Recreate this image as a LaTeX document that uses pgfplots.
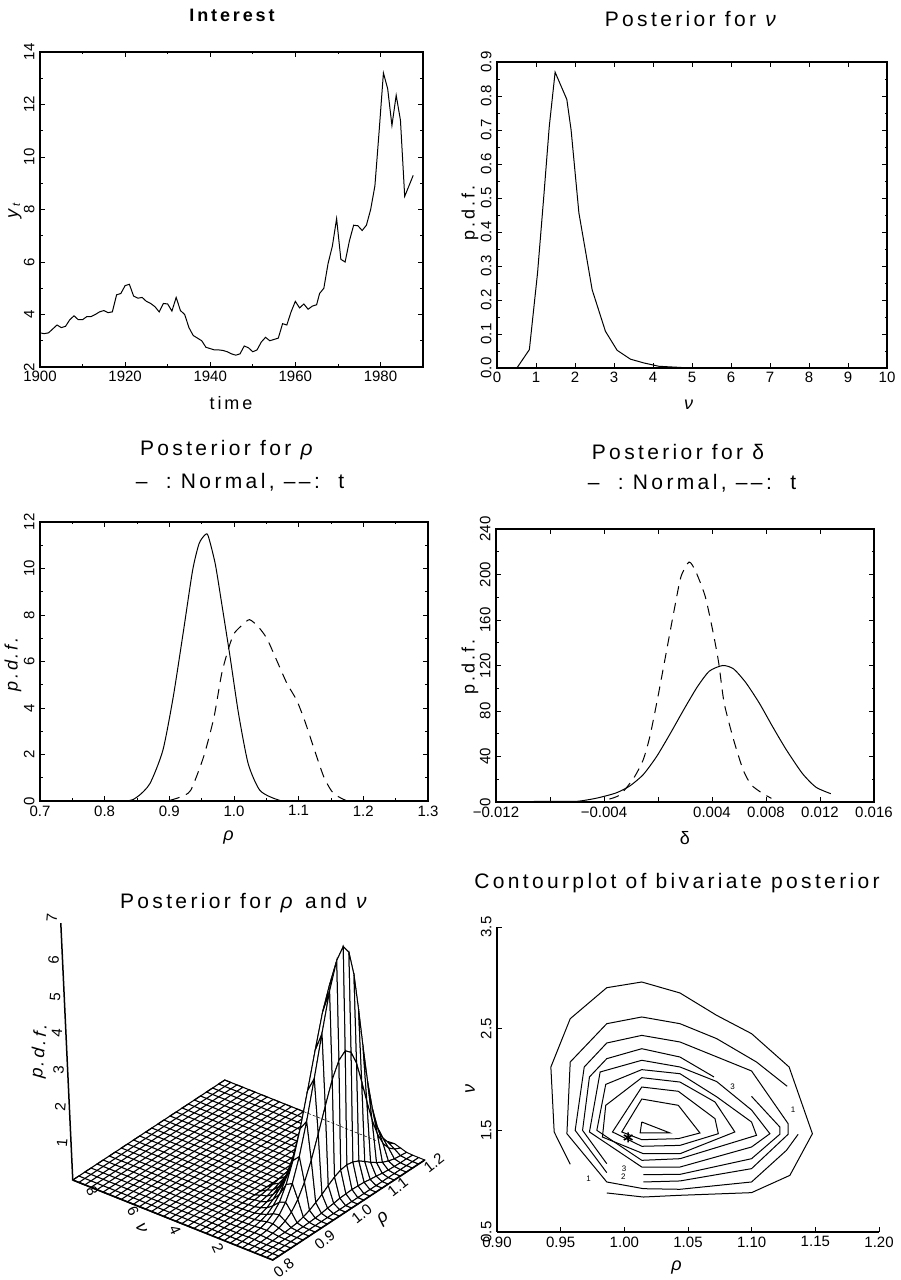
\documentclass[border=0pt]{standalone}
\usepackage{fontspec}
\usepackage{pgfplots}
\pgfplotsset{compat=1.18}
\setmainfont{Liberation Sans}[LetterSpace=16]
\newfontfamily\tickfont{Liberation Sans}
\newcommand\ttl{\fontsize{21}{24}\selectfont}
\newcommand\lab{\fontsize{18}{20}\selectfont}
\newcommand\tk{\tickfont\fontsize{15}{15}\selectfont}
\pgfplotsset{panel/.style={scale only axis,
  tick align=inside, major tick length=5pt, minor tick length=2.5pt,
  axis line style={line width=1.5pt},
  every tick/.append style={line width=.8pt,black},
  every minor tick/.append style={line width=.7pt,black},
  tick label style={font=\tk},
  xticklabel style={yshift=-1pt},
  yticklabel style={rotate=90,anchor=south,yshift=2pt},
  },
  cl/.style={black,solid,line width=1pt,mark=none}}
\begin{document}
\begin{tikzpicture}[x=1pt,y=1pt]
\useasboundingbox (0,0) rectangle (900,1280);
% ---- panel 1
\begin{axis}[panel,at={(40pt,913pt)},anchor=south west,width=383pt,height=315pt,
 xmin=1900,xmax=1990,ymin=2,ymax=14,
 xtick={1900,1920,1940,1960,1980},xticklabels={1900,1920,1940,1960,1980},
 ytick={2,4,6,8,10,12,14},yticklabels={2,4,6,8,10,12,14},minor tick num=1]
\addplot[black,line width=1pt] coordinates {
(1900,3.3)(1901,3.27)(1902,3.3)(1903,3.45)(1904,3.6)(1905,3.5)(1906,3.55)(1907,3.8)(1908,3.95)(1909,3.8)
(1910,3.8)(1911,3.92)(1912,3.92)(1913,4.0)(1914,4.1)(1915,4.15)(1916,4.07)(1917,4.1)(1918,4.75)(1919,4.8)
(1920,5.1)(1921,5.15)(1922,4.7)(1923,4.62)(1924,4.65)(1925,4.5)(1926,4.42)(1927,4.3)(1928,4.1)(1929,4.42)
(1930,4.4)(1931,4.13)(1932,4.65)(1933,4.15)(1934,4.0)(1935,3.5)(1936,3.2)(1937,3.1)(1938,3.0)(1939,2.75)
(1940,2.7)(1941,2.65)(1942,2.65)(1943,2.63)(1944,2.58)(1945,2.5)(1946,2.45)(1947,2.5)(1948,2.8)(1949,2.73)
(1950,2.58)(1951,2.65)(1952,2.95)(1953,3.13)(1954,3.0)(1955,3.05)(1956,3.1)(1957,3.65)(1958,3.6)(1959,4.1)
(1960,4.5)(1961,4.25)(1962,4.4)(1963,4.2)(1964,4.32)(1965,4.37)(1965.7,4.8)(1966.7,5.0)(1967.7,5.95)(1968.7,6.6)
(1969.7,7.65)(1970.7,6.1)(1971.7,6.0)(1972.7,6.8)(1973.7,7.4)(1974.7,7.38)(1975.7,7.2)(1976.7,7.4)(1977.7,8.0)(1978.7,8.9)
(1979.7,11.0)(1980.7,13.2)(1981.7,12.6)(1982.7,11.2)(1983.7,12.35)(1984.7,11.4)(1985.7,8.5)(1986.7,8.9)(1987.7,9.3)};
\end{axis}
\node[font=\fontsize{18}{20}\selectfont\bfseries] at (232,{1280-15}) {Interest};
\node[font=\lab] at (231,{1280-403}) {time};
\node[font=\lab,rotate=90] at (15,{1280-210}) {\textit{y}\raisebox{-2pt}{\fontsize{11}{11}\selectfont\textit{t}}};
% ---- panel 2
\begin{axis}[panel,at={(497pt,912pt)},anchor=south west,width=390pt,height=306pt,
 xmin=0,xmax=10,ymin=0,ymax=0.9,
 xtick={0,1,2,3,4,5,6,7,8,9,10},xticklabels={0,1,2,3,4,5,6,7,8,9,10},
 ytick={0,0.1,0.2,0.3,0.4,0.5,0.6,0.7,0.8,0.9},yticklabels={0.0,0.1,0.2,0.3,0.4,0.5,0.6,0.7,0.8,0.9},
 minor y tick num=1]
\addplot[black,line width=1pt] coordinates {(0,0)(0.51,0)(0.83,0.054)(1.04,0.28)(1.2,0.505)(1.34,0.71)(1.49,0.87)(1.79,0.79)(1.9,0.70)(2.1,0.456)(2.26,0.35)(2.44,0.23)(2.78,0.108)(3.08,0.052)(3.42,0.026)(3.76,0.015)(4.15,0.005)(4.8,0.001)(6,0)(10,0)};
\end{axis}
\node[font=\ttl] at (692,{1280-19}) {Posterior for \textit{ν}};
\node[font=\lab] at (690,{1280-405}) {\textit{ν}};
\node[font=\lab,rotate=90] at (470,{1280-213}) {p.d.f.};
% ---- panel 3
\begin{axis}[panel,at={(40pt,479pt)},anchor=south west,width=388pt,height=279pt,
 xmin=0.7,xmax=1.3,ymin=0,ymax=12,
 xtick={0.7,0.8,0.9,1.0,1.1,1.2,1.3},xticklabels={0.7,0.8,0.9,1.0,1.1,1.2,1.3},
 ytick={0,2,4,6,8,10,12},yticklabels={0,2,4,6,8,10,12},minor tick num=1]
\addplot[black,line width=1pt,smooth,tension=0.4] coordinates {(0.7,0)(0.829,0)(0.85,0.17)(0.87,0.75)(0.89,2.18)(0.906,4.47)(0.922,7.34)(0.936,9.92)(0.946,11.07)(0.955,11.44)(0.96,11.41)(0.971,10.2)(0.981,8.49)(0.994,6.19)(1.007,3.76)(1.022,1.6)(1.04,0.46)(1.066,0.07)(1.092,0)(1.3,0)};
\addplot[black,line width=1pt,smooth,tension=0.4,dash pattern=on 10pt off 7pt] coordinates {(0.901,0.03)(0.917,0.17)(0.933,0.46)(0.953,1.9)(0.969,3.6)(0.981,5.48)(0.992,6.6)(1.0,7.2)(1.012,7.55)(1.024,7.8)(1.038,7.48)(1.051,6.98)(1.066,6.05)(1.082,5.05)(1.097,4.33)(1.11,3.4)(1.123,2.32)(1.139,1.03)(1.154,0.32)(1.175,0)};
\end{axis}
\node[font=\ttl] at (228,{1280-450}) {Posterior for \textit{ρ}};
\node[font=\ttl] at (240,{1280-482}) {–\ \ :\ Normal,\ –\,–:\ \ t};
\node[font=\lab] at (230,{1280-838}) {\textit{ρ}};
\node[font=\lab,rotate=90] at (13,{1280-663}) {\textit{p.d.f.}};
% ---- panel 4
\begin{axis}[panel,at={(496pt,478pt)},anchor=south west,width=378pt,height=273pt,
 xmin=-0.012,xmax=0.016,ymin=0,ymax=240,scaled ticks=false,
 xtick={-0.012,-0.008,-0.004,0,0.004,0.008,0.012,0.016},
 xticklabels={−0.012,,−0.004,,0.004,0.008,0.012,0.016},
 ytick={0,40,80,120,160,200,240},yticklabels={0,40,80,120,160,200,240},minor y tick num=1]
\addplot[black,line width=1pt,smooth,tension=0.4] coordinates {(-0.012,0)(-0.008,0.6)(-0.006,0.6)(-0.0045,3.5)(-0.0031,8)(-0.0021,14)(-0.0011,24)(-0.0001,40)(0.0009,60)(0.0019,81)(0.0029,101)(0.0038,115)(0.0048,120)(0.0056,117)(0.0065,105)(0.0075,87)(0.0085,66)(0.0095,46)(0.0107,25)(0.0117,13)(0.0128,7.3)};
\addplot[black,line width=1pt,smooth,tension=0.4,dash pattern=on 10pt off 7pt] coordinates {(-0.0036,2.6)(-0.0028,6.4)(-0.0018,21)(-0.0011,37)(-0.0006,57.7)(0,92.8)(0.0006,130.8)(0.0012,168.9)(0.0017,198)(0.0023,211)(0.0028,202.5)(0.0035,180.6)(0.0041,148)(0.0045,122)(0.0049,87)(0.0056,54.7)(0.0063,28.4)(0.0069,15.2)(0.0077,7.9)(0.0084,3.2)};
\end{axis}
\node[font=\ttl] at (678,{1280-452}) {Posterior for δ};
\node[font=\ttl] at (692,{1280-483}) {–\ \ :\ Normal,\ –\,–:\ \ t};
\node[font=\lab] at (685,{1280-838}) {δ};
\node[font=\lab,rotate=90] at (470,{1280-667}) {p.d.f.};
% ---- panel 5: mesh
\begin{axis}[at={(272.75pt,20pt)},anchor=origin,x={(380pt,250pt)},y={(-20.2pt,8.08pt)},z={(1.5pt,37.7pt)},
 hide axis,clip=false,xmin=0.8,xmax=1.2,ymin=0,ymax=9.9,zmin=0,zmax=7,
 colormap={wh}{color=(white) color=(white)}]
\addplot3[black,line width=1.1pt] coordinates {(0.8,3.6,0)(1.2,3.6,0)(1.2,3.9,0)(0.8,3.9,0)(0.8,4.2,0)(1.2,4.2,0)(1.2,4.5,0)(0.8,4.5,0)(0.8,4.8,0)(1.2,4.8,0)(1.2,5.1,0)(0.8,5.1,0)(0.8,5.4,0)(1.2,5.4,0)(1.2,5.7,0)(0.8,5.7,0)(0.8,6,0)(1.2,6,0)(1.2,6.3,0)(0.8,6.3,0)(0.8,6.6,0)(1.2,6.6,0)(1.2,6.9,0)(0.8,6.9,0)(0.8,7.2,0)(1.2,7.2,0)(1.2,7.5,0)(0.8,7.5,0)(0.8,7.8,0)(1.2,7.8,0)(1.2,8.1,0)(0.8,8.1,0)(0.8,8.4,0)(1.2,8.4,0)(1.2,8.7,0)(0.8,8.7,0)(0.8,9,0)(1.2,9,0)(1.2,9.3,0)(0.8,9.3,0)(0.8,9.6,0)(1.2,9.6,0)(1.2,9.9,0)(0.8,9.9,0)};
\addplot3[black,line width=1.1pt] coordinates {(0.8,3.6,0)(0.8,9.9,0)(0.816,9.9,0)(0.816,3.6,0)(0.832,3.6,0)(0.832,9.9,0)(0.848,9.9,0)(0.848,3.6,0)(0.864,3.6,0)(0.864,9.9,0)(0.88,9.9,0)(0.88,3.6,0)(0.896,3.6,0)(0.896,9.9,0)(0.912,9.9,0)(0.912,3.6,0)(0.928,3.6,0)(0.928,9.9,0)(0.944,9.9,0)(0.944,3.6,0)(0.96,3.6,0)(0.96,9.9,0)(0.976,9.9,0)(0.976,3.6,0)(0.992,3.6,0)(0.992,9.9,0)(1.008,9.9,0)(1.008,3.6,0)(1.024,3.6,0)(1.024,9.9,0)(1.04,9.9,0)(1.04,3.6,0)(1.056,3.6,0)(1.056,9.9,0)(1.072,9.9,0)(1.072,3.6,0)(1.088,3.6,0)(1.088,9.9,0)(1.104,9.9,0)(1.104,3.6,0)(1.12,3.6,0)(1.12,9.9,0)(1.136,9.9,0)(1.136,3.6,0)(1.152,3.6,0)(1.152,9.9,0)(1.168,9.9,0)(1.168,3.6,0)(1.184,3.6,0)(1.184,9.9,0)(1.2,9.9,0)(1.2,3.6,0)};
\addplot3[surf,shader=faceted,faceted color=black,line width=1pt,mesh/cols=26,point meta=0] coordinates {
(1.2,3.6,0)(1.184,3.6,0)(1.168,3.6,0)(1.152,3.6,0)(1.136,3.6,0)(1.12,3.6,0)(1.104,3.6,0)(1.088,3.6,0)(1.072,3.6,0)(1.056,3.6,0)(1.04,3.6,0)(1.024,3.6,0)(1.008,3.6,0)(0.992,3.6,0)(0.976,3.6,0)(0.96,3.6,0)(0.944,3.6,0)(0.928,3.6,0)(0.912,3.6,0)(0.896,3.6,0)(0.88,3.6,0)(0.864,3.6,0)(0.848,3.6,0)(0.832,3.6,0)(0.816,3.6,0)(0.8,3.6,0)
(1.2,3.3,0)(1.184,3.3,0.01)(1.168,3.3,0.02)(1.152,3.3,0.04)(1.136,3.3,0.06)(1.12,3.3,0.09)(1.104,3.3,0.14)(1.088,3.3,0.18)(1.072,3.3,0.22)(1.056,3.3,0.25)(1.04,3.3,0.26)(1.024,3.3,0.25)(1.008,3.3,0.22)(0.992,3.3,0.18)(0.976,3.3,0.14)(0.96,3.3,0.09)(0.944,3.3,0.06)(0.928,3.3,0.04)(0.912,3.3,0.02)(0.896,3.3,0.01)(0.88,3.3,0)(0.864,3.3,0)(0.848,3.3,0)(0.832,3.3,0)(0.816,3.3,0)(0.8,3.3,0)
(1.2,3,0.01)(1.184,3,0.02)(1.168,3,0.03)(1.152,3,0.06)(1.136,3,0.1)(1.12,3,0.16)(1.104,3,0.23)(1.088,3,0.3)(1.072,3,0.37)(1.056,3,0.42)(1.04,3,0.44)(1.024,3,0.42)(1.008,3,0.37)(0.992,3,0.3)(0.976,3,0.23)(0.96,3,0.16)(0.944,3,0.1)(0.928,3,0.06)(0.912,3,0.03)(0.896,3,0.02)(0.88,3,0.01)(0.864,3,0)(0.848,3,0)(0.832,3,0)(0.816,3,0)(0.8,3,0)
(1.2,2.7,0.02)(1.184,2.7,0.03)(1.168,2.7,0.07)(1.152,2.7,0.12)(1.136,2.7,0.21)(1.12,2.7,0.32)(1.104,2.7,0.47)(1.088,2.7,0.62)(1.072,2.7,0.77)(1.056,2.7,0.86)(1.04,2.7,0.9)(1.024,2.7,0.86)(1.008,2.7,0.77)(0.992,2.7,0.62)(0.976,2.7,0.47)(0.96,2.7,0.32)(0.944,2.7,0.21)(0.928,2.7,0.12)(0.912,2.7,0.07)(0.896,2.7,0.03)(0.88,2.7,0.02)(0.864,2.7,0.01)(0.848,2.7,0)(0.832,2.7,0)(0.816,2.7,0)(0.8,2.7,0)
(1.2,2.4,0.03)(1.184,2.4,0.07)(1.168,2.4,0.13)(1.152,2.4,0.25)(1.136,2.4,0.42)(1.12,2.4,0.66)(1.104,2.4,0.96)(1.088,2.4,1.27)(1.072,2.4,1.56)(1.056,2.4,1.77)(1.04,2.4,1.84)(1.024,2.4,1.77)(1.008,2.4,1.56)(0.992,2.4,1.27)(0.976,2.4,0.96)(0.96,2.4,0.66)(0.944,2.4,0.42)(0.928,2.4,0.25)(0.912,2.4,0.13)(0.896,2.4,0.07)(0.88,2.4,0.03)(0.864,2.4,0.01)(0.848,2.4,0.01)(0.832,2.4,0)(0.816,2.4,0)(0.8,2.4,0)
(1.2,2.1,0.06)(1.184,2.1,0.12)(1.168,2.1,0.25)(1.152,2.1,0.45)(1.136,2.1,0.77)(1.12,2.1,1.21)(1.104,2.1,1.75)(1.088,2.1,2.32)(1.072,2.1,2.86)(1.056,2.1,3.23)(1.04,2.1,3.36)(1.024,2.1,3.23)(1.008,2.1,2.86)(0.992,2.1,2.32)(0.976,2.1,1.75)(0.96,2.1,1.21)(0.944,2.1,0.77)(0.928,2.1,0.45)(0.912,2.1,0.25)(0.896,2.1,0.12)(0.88,2.1,0.06)(0.864,2.1,0.02)(0.848,2.1,0.01)(0.832,2.1,0)(0.816,2.1,0)(0.8,2.1,0)
(1.2,1.8,0.1)(1.184,1.8,0.21)(1.168,1.8,0.41)(1.152,1.8,0.77)(1.136,1.8,1.3)(1.12,1.8,2.04)(1.104,1.8,2.95)(1.088,1.8,3.91)(1.072,1.8,4.82)(1.056,1.8,5.44)(1.04,1.8,5.67)(1.024,1.8,5.44)(1.008,1.8,4.82)(0.992,1.8,3.91)(0.976,1.8,2.95)(0.96,1.8,2.04)(0.944,1.8,1.3)(0.928,1.8,0.77)(0.912,1.8,0.41)(0.896,1.8,0.21)(0.88,1.8,0.1)(0.864,1.8,0.04)(0.848,1.8,0.02)(0.832,1.8,0.01)(0.816,1.8,0)(0.8,1.8,0)
(1.2,1.5,0.11)(1.184,1.5,0.24)(1.168,1.5,0.47)(1.152,1.5,0.86)(1.136,1.5,1.47)(1.12,1.5,2.3)(1.104,1.5,3.33)(1.088,1.5,4.42)(1.072,1.5,5.44)(1.056,1.5,6.14)(1.04,1.5,6.4)(1.024,1.5,6.14)(1.008,1.5,5.44)(0.992,1.5,4.42)(0.976,1.5,3.33)(0.96,1.5,2.3)(0.944,1.5,1.47)(0.928,1.5,0.86)(0.912,1.5,0.47)(0.896,1.5,0.24)(0.88,1.5,0.11)(0.864,1.5,0.04)(0.848,1.5,0.02)(0.832,1.5,0.01)(0.816,1.5,0)(0.8,1.5,0)
(1.2,1.2,0.06)(1.184,1.2,0.14)(1.168,1.2,0.27)(1.152,1.2,0.5)(1.136,1.2,0.85)(1.12,1.2,1.33)(1.104,1.2,1.92)(1.088,1.2,2.55)(1.072,1.2,3.15)(1.056,1.2,3.55)(1.04,1.2,3.7)(1.024,1.2,3.55)(1.008,1.2,3.15)(0.992,1.2,2.55)(0.976,1.2,1.92)(0.96,1.2,1.33)(0.944,1.2,0.85)(0.928,1.2,0.5)(0.912,1.2,0.27)(0.896,1.2,0.14)(0.88,1.2,0.06)(0.864,1.2,0.03)(0.848,1.2,0.01)(0.832,1.2,0)(0.816,1.2,0)(0.8,1.2,0)
(1.2,0.9,0.01)(1.184,0.9,0.03)(1.168,0.9,0.05)(1.152,0.9,0.1)(1.136,0.9,0.17)(1.12,0.9,0.27)(1.104,0.9,0.38)(1.088,0.9,0.51)(1.072,0.9,0.63)(1.056,0.9,0.71)(1.04,0.9,0.74)(1.024,0.9,0.71)(1.008,0.9,0.63)(0.992,0.9,0.51)(0.976,0.9,0.38)(0.96,0.9,0.27)(0.944,0.9,0.17)(0.928,0.9,0.1)(0.912,0.9,0.05)(0.896,0.9,0.03)(0.88,0.9,0.01)(0.864,0.9,0.01)(0.848,0.9,0)(0.832,0.9,0)(0.816,0.9,0)(0.8,0.9,0)
(1.2,0.6,0)(1.184,0.6,0.01)(1.168,0.6,0.01)(1.152,0.6,0.02)(1.136,0.6,0.03)(1.12,0.6,0.05)(1.104,0.6,0.08)(1.088,0.6,0.1)(1.072,0.6,0.13)(1.056,0.6,0.14)(1.04,0.6,0.15)(1.024,0.6,0.14)(1.008,0.6,0.13)(0.992,0.6,0.1)(0.976,0.6,0.08)(0.96,0.6,0.05)(0.944,0.6,0.03)(0.928,0.6,0.02)(0.912,0.6,0.01)(0.896,0.6,0.01)(0.88,0.6,0)(0.864,0.6,0)(0.848,0.6,0)(0.832,0.6,0)(0.816,0.6,0)(0.8,0.6,0)
(1.2,0.3,0)(1.184,0.3,0)(1.168,0.3,0)(1.152,0.3,0)(1.136,0.3,0)(1.12,0.3,0)(1.104,0.3,0)(1.088,0.3,0)(1.072,0.3,0)(1.056,0.3,0)(1.04,0.3,0)(1.024,0.3,0)(1.008,0.3,0)(0.992,0.3,0)(0.976,0.3,0)(0.96,0.3,0)(0.944,0.3,0)(0.928,0.3,0)(0.912,0.3,0)(0.896,0.3,0)(0.88,0.3,0)(0.864,0.3,0)(0.848,0.3,0)(0.832,0.3,0)(0.816,0.3,0)(0.8,0.3,0)
(1.2,0,0)(1.184,0,0)(1.168,0,0)(1.152,0,0)(1.136,0,0)(1.12,0,0)(1.104,0,0)(1.088,0,0)(1.072,0,0)(1.056,0,0)(1.04,0,0)(1.024,0,0)(1.008,0,0)(0.992,0,0)(0.976,0,0)(0.96,0,0)(0.944,0,0)(0.928,0,0)(0.912,0,0)(0.896,0,0)(0.88,0,0)(0.864,0,0)(0.848,0,0)(0.832,0,0)(0.816,0,0)(0.8,0,0)};
\addplot3[black,line width=1.6pt] coordinates {(1.2,0,0)(0.8,0,0)(0.8,9.9,0)};
\addplot3[black,line width=.5pt,densely dashed] coordinates {(1.2,6,0)(1.2,2.4,0)};
\node[xshift=11pt,yshift=-8pt,font=\tk,rotate=38] at (axis cs:0.8,0,0) {0.8};
\node[xshift=14pt,yshift=-5pt,font=\tk,rotate=38] at (axis cs:0.9,0,0) {0.9};
\node[xshift=13pt,yshift=-4pt,font=\tk,rotate=38] at (axis cs:1.0,0,0) {1.0};
\node[xshift=11pt,yshift=-2pt,font=\tk,rotate=38] at (axis cs:1.1,0,0) {1.1};
\node[xshift=9pt,yshift=-3pt,font=\tk,rotate=38] at (axis cs:1.2,0,0) {1.2};
\node[xshift=17pt,yshift=-21pt,font=\lab,rotate=38] at (axis cs:1.05,0,0) {\textit{ρ}};
\node[xshift=-19pt,yshift=4pt,font=\tk,rotate=-65] at (axis cs:0.8,8,0) {8};
\node[xshift=-18.5pt,yshift=0pt,font=\tk,rotate=-65] at (axis cs:0.8,6,0) {6};
\node[xshift=-17pt,yshift=-2pt,font=\tk,rotate=-65] at (axis cs:0.8,4,0) {4};
\node[xshift=-14.5pt,yshift=-4pt,font=\tk,rotate=-65] at (axis cs:0.8,2,0) {2};
\node[xshift=-30pt,yshift=-10pt,font=\lab,rotate=-70] at (axis cs:0.8,5,0) {\textit{ν}};
\end{axis}
% ---- panel 5: vertical axis
\begin{axis}[at={(272.75pt,20pt)},anchor=origin,x={(380pt,250pt)},y={(-20.2pt,8.08pt)},z={(-1.71pt,36.7pt)},
 hide axis,clip=false,xmin=0.8,xmax=1.2,ymin=0,ymax=9.9,zmin=0,zmax=7]
\addplot3[black,line width=1.5pt] coordinates {(0.8,9.9,0)(0.8,9.9,7)};
\node[xshift=-9pt,font=\tk,rotate=85] at (axis cs:0.8,9.9,1) {1};
\node[xshift=-9pt,font=\tk,rotate=85] at (axis cs:0.8,9.9,2) {2};
\node[xshift=-9pt,font=\tk,rotate=85] at (axis cs:0.8,9.9,3) {3};
\node[xshift=-9pt,font=\tk,rotate=85] at (axis cs:0.8,9.9,4) {4};
\node[xshift=-9pt,font=\tk,rotate=85] at (axis cs:0.8,9.9,5) {5};
\node[xshift=-9pt,font=\tk,rotate=85] at (axis cs:0.8,9.9,6) {6};
\node[xshift=-9pt,yshift=5pt,font=\tk,rotate=85] at (axis cs:0.8,9.9,7) {7};
\end{axis}
\node[font=\ttl] at (245,{1280-903}) {Posterior for \textit{ρ} and \textit{ν}};
\node[font=\lab,rotate=85] at (40,{1280-1050}) {\textit{p.d.f.}};
% ---- panel 6
\begin{axis}[panel,at={(497pt,48pt)},anchor=south west,width=382pt,height=305pt,
 xmin=0.9,xmax=1.2,ymin=0.5,ymax=3.5,
 axis x line*=bottom,axis y line*=left,
 y axis line style={line width=2pt},
 xtick={0.9,0.95,1.0,1.05,1.1,1.15,1.2},xticklabels={0.90,0.95,1.00,1.05,1.10,1.15,1.20},
 ytick={0.5,1.5,2.5,3.5},yticklabels={0.5,1.5,2.5,3.5}]
\addplot[cl] coordinates {(0.9862,0.884)(1.015,0.844)(1.0437,0.861)(1.0999,0.887)(1.13,1.057)(1.1477,1.467)(1.1294,2.123)(1.0999,2.451)(1.0725,2.631)(1.0437,2.851)(1.0137,2.959)(0.9862,2.903)(0.9575,2.598)(0.9423,2.123)(0.9449,1.484)(0.9575,1.166)};
\addplot[cl] coordinates {(1.1279,1.933)(1.1038,2.172)(1.0725,2.402)(1.0437,2.549)(1.0137,2.615)(0.9862,2.549)(0.9575,2.172)(0.9549,1.467)(0.9862,0.992)(1.015,0.926)(1.0437,0.92)(1.0999,0.992)(1.1273,1.303)(1.1365,1.461)};
\addplot[cl] coordinates {(0.9862,1.084)(0.9614,1.5)(0.9685,2.123)(0.9862,2.359)(1.0137,2.434)(1.0437,2.369)(1.0999,2.084)(1.1286,1.566)(1.1286,1.461)(1.0999,1.123)(1.0437,1.002)(1.015,0.992)};
\addplot[cl] coordinates {(0.9862,1.172)(0.9672,1.5)(0.9726,2.025)(0.9862,2.205)(1.0137,2.303)(1.0437,2.221)(1.0704,2.025)};
\addplot[cl] coordinates {(1.0999,1.834)(1.1221,1.533)(1.1221,1.461)(1.0999,1.221)(1.0437,1.067)(1.015,1.064)};
\addplot[cl] coordinates {(1.0137,1.139)(1.0437,1.139)(1.0999,1.336)(1.1143,1.467)(1.0999,1.7)(1.0725,1.98)(1.0437,2.123)(1.0137,2.189)(0.981,2.074)(0.9726,1.484)(1.0137,1.139)};
\addplot[cl] coordinates {(1.0137,1.205)(1.0437,1.221)(1.1038,1.451)(1.0999,1.582)(1.0725,1.83)(1.0437,2.057)(1.0137,2.097)(0.9854,1.952)(0.9784,1.5)(1.0137,1.205)};
\addplot[cl] coordinates {(1.015,1.27)(1.0437,1.27)(1.0868,1.484)(1.0712,1.779)(1.0437,1.975)(1.0137,2.018)(0.9854,1.746)(0.9828,1.434)(1.015,1.27)};
\addplot[cl] coordinates {(1.0137,1.343)(1.0437,1.352)(1.0738,1.467)(1.0712,1.615)(1.0424,1.884)(1.0137,1.926)(0.9907,1.484)(1.0137,1.343)};
\addplot[cl] coordinates {(1.0137,1.408)(1.0424,1.418)(1.0594,1.474)(1.0424,1.746)(1.0137,1.808)(0.998,1.484)(1.0137,1.408)};
\addplot[cl] coordinates {(1.0137,1.582)(1.0359,1.474)(1.0124,1.474)(1.0137,1.582)};
\addplot[only marks,mark=asterisk,mark size=5pt,line width=1.6pt,black] coordinates {(1.003,1.43)};
\node[font=\tickfont\fontsize{8}{8}\selectfont] at (axis cs:1.1326,1.703) {1};
\node[font=\tickfont\fontsize{8}{8}\selectfont] at (axis cs:0.9719,1.025) {1};
\node[font=\tickfont\fontsize{8}{8}\selectfont] at (axis cs:1.085,1.926) {3};
\node[font=\tickfont\fontsize{8}{8}\selectfont] at (axis cs:0.9998,1.123) {3};
\node[font=\tickfont\fontsize{8}{8}\selectfont] at (axis cs:0.9993,1.041) {2};
\end{axis}
\node[font=\ttl] at (677,{1280-883}) {Contourplot of bivariate posterior};
\node[font=\lab] at (678,{1280-1268}) {\textit{ρ}};
\node[font=\lab,rotate=90] at (470,{1280-1088}) {\textit{ν}};
\end{tikzpicture}
\end{document}
